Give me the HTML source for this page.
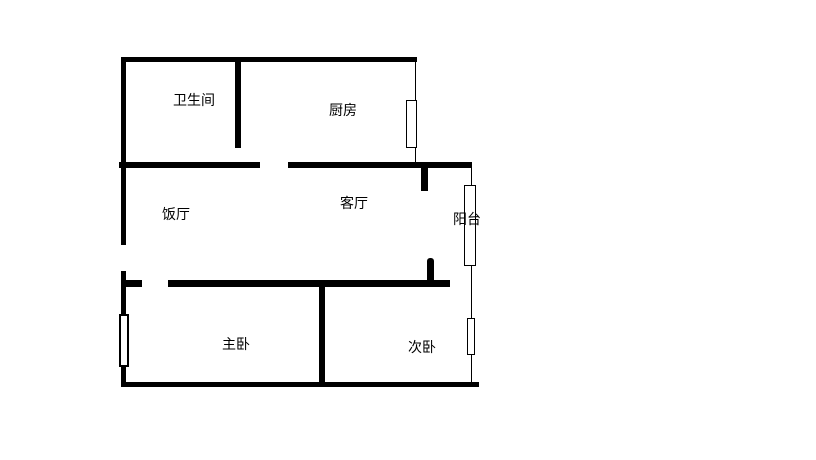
<!DOCTYPE html>
<html><head><meta charset="utf-8"><style>
html,body{margin:0;padding:0;background:#fff;width:816px;height:460px;overflow:hidden}
.w{position:absolute;background:#000}
.win{position:absolute;border:1px solid #000;background:#fff;box-sizing:border-box}
.t{position:absolute;font:14px "Liberation Sans","Noto Sans CJK SC",sans-serif;color:#000;white-space:nowrap;line-height:16px}
</style></head><body>
<div class="w" style="left:121px;top:57px;width:296px;height:5px"></div>
<div class="w" style="left:121px;top:57px;width:5px;height:188px"></div>
<div class="w" style="left:235px;top:57px;width:6px;height:91px"></div>
<div class="w" style="left:119px;top:162px;width:141px;height:6px"></div>
<div class="w" style="left:288px;top:162px;width:184px;height:6px"></div>
<div class="w" style="left:415px;top:57px;width:1px;height:106px"></div>
<div class="win" style="left:406px;top:100px;width:11px;height:48px"></div>
<div class="w" style="left:421px;top:167px;width:7px;height:24px"></div>
<div class="w" style="left:471px;top:165px;width:1px;height:218px"></div>
<div class="win" style="left:464px;top:185px;width:12px;height:81px"></div>
<div class="win" style="left:467px;top:318px;width:8px;height:37px"></div>
<div class="w" style="left:121px;top:271px;width:5px;height:116px"></div>
<div class="w" style="left:121px;top:280px;width:21px;height:7px"></div>
<div class="w" style="left:168px;top:280px;width:282px;height:7px"></div>
<div class="w" style="left:427px;top:258px;width:7px;height:24px;border-radius:3px 3px 0 0"></div>
<div class="w" style="left:319px;top:280px;width:6px;height:105px"></div>
<div class="w" style="left:121px;top:382px;width:358px;height:5px"></div>
<div class="win" style="left:119px;top:314px;width:10px;height:53px;border-width:2px"></div>
<div class="t" style="left:173px;top:92px">卫生间</div>
<div class="t" style="left:329px;top:102px">厨房</div>
<div class="t" style="left:162px;top:206px">饭厅</div>
<div class="t" style="left:340px;top:195px">客厅</div>
<div class="t" style="left:453px;top:211px">阳台</div>
<div class="t" style="left:222px;top:336px">主卧</div>
<div class="t" style="left:408px;top:339px">次卧</div>
</body></html>
